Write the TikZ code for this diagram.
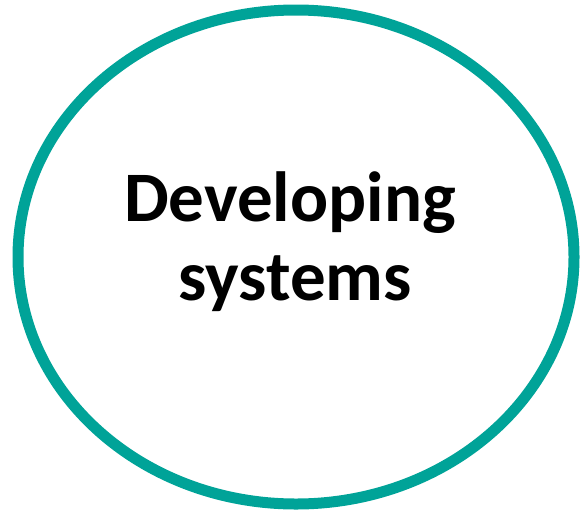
\documentclass[tikz,border=0pt]{standalone}
\usepackage{fontspec}
\setmainfont{Carlito}
\definecolor{ringteal}{RGB}{0,163,152}
\begin{document}
\begin{tikzpicture}[x=1pt,y=-1pt,
  ring/.style={draw=ringteal,line width=11pt,fill=white},
  label/.style={font=\fontsize{71}{79}\selectfont\bfseries,anchor=base,inner sep=0pt}]
\useasboundingbox (0,0) rectangle (580,509);
\draw[ring] (296,257) ellipse [x radius=278, y radius=247];
\node[label] (l1) at (290,221) {Developing};
\node[label] (l2) at (295,300) {systems};
\end{tikzpicture}
\end{document}
